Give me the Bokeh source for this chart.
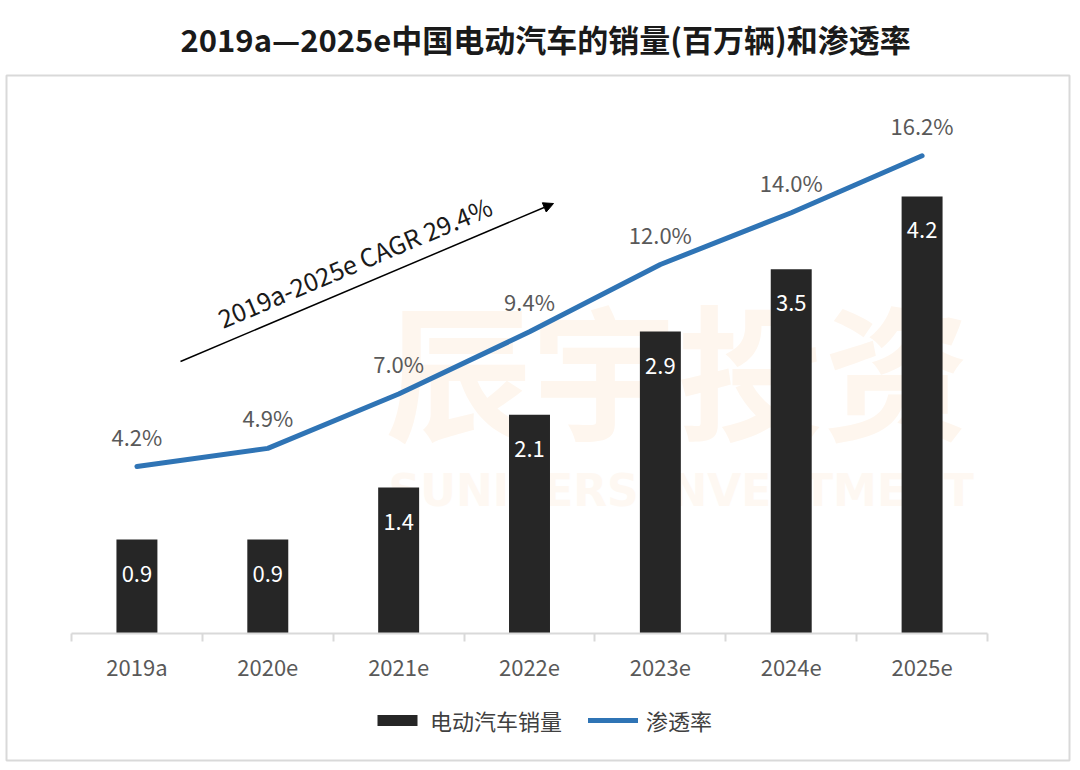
from bokeh.plotting import figure
from bokeh.models import (ColumnDataSource, Range1d, LinearAxis, FixedTicker, Legend, LegendItem,
                          Arrow, NormalHead, Label, Title)
from bokeh.core.properties import value
from bokeh.embed import file_html
from bokeh.resources import INLINE

# ---------------- data ----------------
years = ["2019a", "2020e", "2021e", "2022e", "2023e", "2024e", "2025e"]
sales = [0.9, 0.9, 1.4, 2.1, 2.9, 3.5, 4.2]          # 电动汽车销量（百万辆）
penetration = [4.2, 4.9, 7.0, 9.4, 12.0, 14.0, 16.2]  # 渗透率 %
title_text = "2019a\u20142025e中国电动汽车的销量(百万辆)和渗透率"
cagr_text = "2019a-2025e CAGR 29.4%"
bar_name = "电动汽车销量"
line_name = "渗透率"

FONT = "Noto Sans CJK SC"
W, H = 1072, 762
F_L, F_R, F_T, F_B = 6, 1069, 75, 760      # frame (= bordered box) in canvas pixels
n = len(years)
pos = list(range(1, n + 1))                # category positions on the x scale

# pixel <-> data helpers (layout only)
PX_X, X0PX = 130.86, 71.0                  # px per category, left edge of first category
AX_PX, PX_Y = 632.7, 104.0                 # axis line pixel, px per million
PZ_PX, PX_P = 574.8, 25.9                  # 0% pixel, px per percent
def sx(px):
    return 0.5 + (px - X0PX) / PX_X
def sy(py):
    return (AX_PX - py) / PX_Y
def sp(py):
    return (PZ_PX - py) / PX_P

src = ColumnDataSource(dict(
    x=pos, sales=sales, pen=penetration,
    sales_lbl=[f"{v:.1f}" for v in sales],
    pen_lbl=[f"{v:.1f}%" for v in penetration],
    sales_lbl_y=[v - 34 / PX_Y for v in sales],
    pen_lbl_y=[v + 31 / PX_P for v in penetration],
))

p = figure(width=W, height=H, x_range=Range1d(sx(F_L), sx(F_R)), y_range=Range1d(sy(F_B), sy(F_T)),
           output_backend="svg", toolbar_location=None,
           x_axis_location=None, y_axis_location=None,
           min_border_left=F_L, min_border_right=W - F_R, min_border_top=F_T, min_border_bottom=H - F_B,
           background_fill_color="white", border_fill_color="white")
p.extra_y_ranges = {"pen": Range1d(sp(F_B), sp(F_T))}
p.xgrid.visible = False
p.ygrid.visible = False
p.outline_line_color = "#d9d9d9"
p.outline_line_width = 2

# title
title = Title(text=title_text, text_font=FONT, text_font_size="31px", text_font_style="bold",
              text_color="#1a1a1a", align="left", offset=174, standoff=26, vertical_align="top")
p.add_layout(title, "above")

# watermark
wm1 = Label(x=sx(385), y=sy(365), text="辰宇投资", text_font=FONT,
            text_font_size="146px", text_font_style="bold", text_color="#fef6ee",
            text_baseline="middle", text_align="left", level="underlay")
wm2 = Label(x=sx(388), y=sy(490), text="SUNIVERS INVESTMENT",
            text_font="DejaVu Sans", text_font_size="44px", text_font_style="bold",
            text_color="#fef8f2", text_baseline="middle", text_align="left", level="underlay")
p.add_layout(wm1)
p.add_layout(wm2)

# bars and line
bars = p.vbar(x="x", top="sales", width=0.313, source=src, fill_color="#262626", line_color=None)
line = p.line(x="x", y="pen", source=src, line_color="#2f74b5", line_width=5, y_range_name="pen",
              line_join="round", line_cap="round")

p.text(x="x", y="sales_lbl_y", text="sales_lbl", source=src, text_color="white",
       text_font=value(FONT), text_font_size="22px", text_align="center", text_baseline="middle")
p.text(x="x", y="pen_lbl_y", text="pen_lbl", source=src, text_color="#595959", y_range_name="pen",
       text_font=value(FONT), text_font_size="22px", text_align="center", text_baseline="middle")

# CAGR arrow + text
arrow = Arrow(x_start=sx(180), y_start=sy(361), x_end=sx(553), y_end=sy(203),
              line_color="black", line_width=1.5,
              end=NormalHead(size=10, fill_color="black", line_color="black"))
p.add_layout(arrow)
cagr = Label(x=sx(354), y=sy(261), text=cagr_text, angle=0.40,
             text_font=FONT, text_font_size="25px", text_color="#1a1a1a",
             text_align="center", text_baseline="middle")
p.add_layout(cagr)

# axes drawn inside the box at y = 0: boundary ticks, then category labels
bticks = [i + 0.5 for i in range(n + 1)]
tick_axis = LinearAxis(ticker=FixedTicker(ticks=bticks), fixed_location=0, bounds=(0.5, n + 0.5),
                       major_label_overrides={t: "" for t in bticks},
                       axis_line_color="#d9d9d9", axis_line_width=2,
                       major_tick_line_color="#d9d9d9", major_tick_line_width=2,
                       major_tick_out=8, major_tick_in=0, minor_tick_line_color=None,
                       major_label_standoff=0)
p.add_layout(tick_axis, "below")
cat_axis = LinearAxis(ticker=FixedTicker(ticks=pos), fixed_location=0,
                      major_label_overrides={k: v for k, v in zip(pos, years)},
                      axis_line_color=None, major_tick_line_color=None, minor_tick_line_color=None,
                      major_tick_out=0, major_tick_in=0, major_label_standoff=17,
                      major_label_text_font=FONT, major_label_text_font_size="22px",
                      major_label_text_color="#595959")
p.add_layout(cat_axis, "below")

# legend (inside the bordered box, below the axis labels)
legend = Legend(items=[LegendItem(label=bar_name, renderers=[bars]),
                       LegendItem(label=line_name, renderers=[line])],
                orientation="horizontal", location=(366, 24),
                glyph_width=50, glyph_height=14, label_standoff=8, spacing=26,
                padding=0, margin=0, border_line_color=None, background_fill_alpha=0,
                label_text_font=FONT, label_text_font_size="22px", label_text_color="#404040")
p.add_layout(legend, "center")

open("out.html", "w").write(file_html(p, INLINE))
